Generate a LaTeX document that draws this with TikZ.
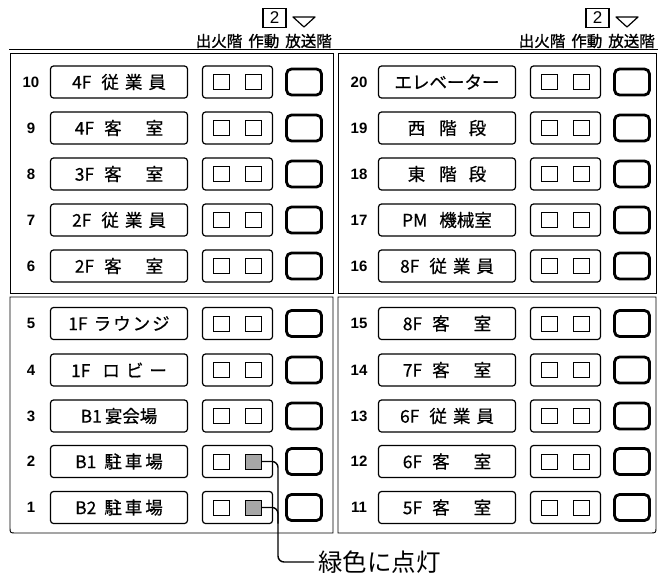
\documentclass[tikz,border=0pt]{standalone}
\usepackage{fontspec}
\setmainfont{Liberation Sans}
\newfontfamily\jp{Noto Sans CJK JP}
\newfontfamily\jpb[FakeBold=1.2]{Noto Sans CJK JP}
\newfontfamily\jph[FakeBold=0.6]{Noto Sans CJK JP}
\usetikzlibrary{calc}
\newcommand\gp[1]{\hspace{#1pt}}
\newcommand\fsrow[5]{%
  \node[numtxt] (num#1) at ({#2+31},#3) {#1};
  \node[lblbox] (lbl#1) at ({#2+119},#3) {#4};
  \node[lampbox] (lampbox#1) at ({#2+237.5},#3) {};
  \node[lamp] (sqa#1) at ({#2+221.5},#3) {};
  \node[#5] (sqb#1) at ({#2+253.5},#3) {};
  \node[bcbox] (bc#1) at ({#2+304},#3) {};
}
\begin{document}
\begin{tikzpicture}[x=1pt,y=-1pt,
  numtxt/.style={font=\bfseries\fontsize{15}{15}\selectfont, inner sep=0},
  lblbox/.style={draw, line width=1.2pt, rounded corners=3pt, minimum width=137pt, minimum height=32pt, inner sep=0, font=\jph\fontsize{17.5}{17.5}\selectfont},
  lampbox/.style={draw, line width=1.2pt, rounded corners=3pt, minimum width=70pt, minimum height=32pt, inner sep=0},
  lamp/.style={draw, line width=1pt, minimum width=16pt, minimum height=15pt, inner sep=0},
  lampon/.style={lamp, fill=black!35},
  bcbox/.style={draw, line width=2.8pt, rounded corners=5pt, minimum width=35pt, minimum height=26pt, inner sep=0},
  panel/.style={line width=0.9pt},
  leader/.style={line width=1.4pt, rounded corners=6pt},
  hdr/.style={font=\jpb\fontsize{15.5}{15.5}\selectfont, inner sep=0, anchor=east},
  numbox/.style={draw, line width=1.3pt, minimum width=23pt, minimum height=19pt, inner sep=0, font=\fontsize{17}{17}\selectfont},
]
\useasboundingbox (0,0) rectangle (658,573);

% headers
\foreach \dx/\s in {0/L,323/R}{
  \node[hdr] (hdr\s) at ({\dx+332},41) {出火階\gp{6}作動\gp{6}放送階};
  \node[numbox] (two\s) at ({\dx+274.5},18) {2};
  \draw[line width=1.2pt, line join=round] ({\dx+293},17) -- ({\dx+315},17) -- ({\dx+304},27) -- cycle;
}

% top double line
\draw[panel] (9,49.5) -- (658,49.5);

% panels
\draw[panel] (10,53) rectangle (333,293);
\draw[panel] (333,297) -- (10,297) -- (10,527) .. controls (10,533) .. (16,533) -- (333,533) -- cycle;
\draw[panel] (338,53) rectangle (656,293);
\draw[panel] (338,297) -- (656,297) -- (656,527) .. controls (656,533) .. (650,533) -- (338,533) -- cycle;

% left panel rows
\fsrow{10}{0}{82}{4F\gp{10}従\gp{6}業\gp{6}員}{lamp}
\fsrow{9}{0}{128}{4F\gp{10}客\gp{24}室}{lamp}
\fsrow{8}{0}{174}{3F\gp{10}客\gp{24}室}{lamp}
\fsrow{7}{0}{220}{2F\gp{10}従\gp{6}業\gp{6}員}{lamp}
\fsrow{6}{0}{266}{2F\gp{10}客\gp{24}室}{lamp}
\fsrow{5}{0}{323.5}{1F\gp{6}ラ\gp{2}ウ\gp{2}ン\gp{2}ジ}{lamp}
\fsrow{4}{0}{370}{1F\gp{12}ロ\gp{6}ビ\gp{6}ー}{lamp}
\fsrow{3}{0}{416}{B1\gp{3}宴会場}{lamp}
\fsrow{2}{0}{461.5}{B1\gp{8}駐\gp{3}車\gp{3}場}{lampon}
\fsrow{1}{0}{507.5}{B2\gp{8}駐\gp{3}車\gp{3}場}{lampon}

% right panel rows
\fsrow{20}{328}{82}{エレベーター}{lamp}
\fsrow{19}{328}{128}{西\gp{14}階\gp{12}段}{lamp}
\fsrow{18}{328}{174}{東\gp{14}階\gp{12}段}{lamp}
\fsrow{17}{328}{220}{PM\gp{12}機械室}{lamp}
\fsrow{16}{328}{266}{8F\gp{10}従\gp{6}業\gp{6}員}{lamp}
\fsrow{15}{328}{323.5}{8F\gp{10}客\gp{24}室}{lamp}
\fsrow{14}{328}{370}{7F\gp{10}客\gp{24}室}{lamp}
\fsrow{13}{328}{416}{6F\gp{10}従\gp{6}業\gp{6}員}{lamp}
\fsrow{12}{328}{461.5}{6F\gp{10}客\gp{24}室}{lamp}
\fsrow{11}{328}{507.5}{5F\gp{10}客\gp{24}室}{lamp}

% leader and note
\node[font=\jp\fontsize{24.5}{24.5}\selectfont, anchor=west, inner sep=4pt] (note) at (314,562) {緑色に点灯};
\coordinate (bend) at (278,562);
\draw[leader] (sqb2.east) -| (bend) -- (note.west);
\draw[leader] (sqb1.east) -| ($(sqb1.east -| bend)+(0,16)$);
\end{tikzpicture}
\end{document}
